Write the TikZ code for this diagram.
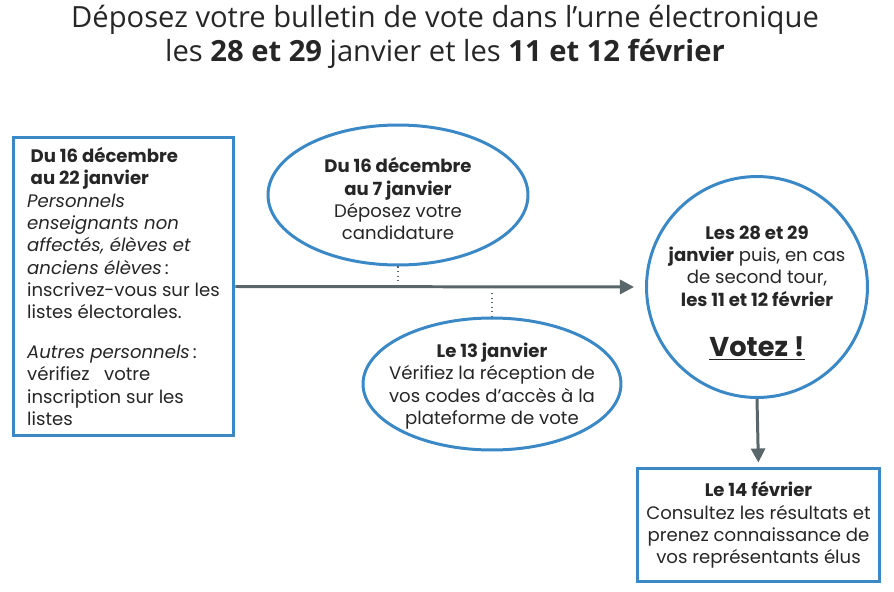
\documentclass[tikz,border=0pt]{standalone}
\usepackage{fontspec}
\setmainfont{Poppins}
\newfontfamily\titlefont{Open Sans}
\usetikzlibrary{shapes.geometric,arrows.meta}
\definecolor{voteblue}{HTML}{3B88C6}
\definecolor{votegray}{HTML}{59666A}
\definecolor{votetext}{HTML}{262626}

\tikzset{
	bluebox/.style={draw=voteblue,line width=1.7pt,inner sep=0pt},
	bubble/.style={draw=voteblue,line width=1.7pt,ellipse,inner sep=0pt},
	bodytext/.style={text=votetext,align=center,font=\fontsize{10.3}{12.7}\selectfont},
	flow/.style={draw=votegray,line width=1.7pt,-{Triangle[length=8pt,width=8pt]}},
	tick/.style={draw=votegray,dotted,line width=0.6pt}
}

\begin{document}
\begin{tikzpicture}[x=0.02cm,y=-0.02cm]
	\useasboundingbox (0,0) rectangle (894,592);
	
	% titre
	\node[text=votetext,align=center,font=\titlefont\fontsize{16.6}{19.6}\selectfont] (titre) at (445,37)
		{Déposez votre bulletin de vote dans l’urne électronique\\
		 les \textbf{28 et 29} janvier et les \textbf{11 et 12 février}};
	
	% inscription
	\node[bluebox,bodytext,align=left,minimum width=4.42cm,minimum height=5.98cm] (inscr) at (123.5,286.5)
		{\hspace{2pt}\textbf{Du 16 décembre}\\
		 \hspace{2pt}\textbf{au 22 janvier}\\
		 \textit{Personnels}\\
		 \textit{enseignants non}\\
		 \textit{affectés, élèves et}\\
		 \textit{anciens élèves}\,:\\
		 inscrivez-vous sur les\\
		 listes électorales.\\[10pt]
		 \textit{Autres personnels}\,:\\
		 vérifiez\ \ \ votre\\
		 inscription sur les\\
		 listes};
	
	% candidature
	\node[bubble,minimum width=5.2cm,minimum height=2.8cm] (candid) at (398,195) {};
	\node[bodytext] (candidtxt) at (398,199)
		{\textbf{Du 16 décembre}\\
		 \textbf{au 7 janvier}\\
		 Déposez votre\\
		 candidature};
	
	% codes
	\node[bubble,minimum width=5.16cm,minimum height=2.64cm] (codes) at (492,384) {};
	\node[bodytext] (codestxt) at (492,386)
		{\textbf{Le 13 janvier}\\
		 Vérifiez la réception de\\
		 vos codes d’accès à la\\
		 plateforme de vote};
	
	% vote
	\node[bluebox,circle,minimum size=4.42cm] (vote) at (757,287) {};
	\node[bodytext] (votetxt) at (757,293)
		{\textbf{Les 28 et 29}\\
		 \textbf{janvier} puis, en cas\\
		 de second tour,\\
		 \textbf{les 11 et 12 février}\\[16pt]
		 {\fontsize{15.5}{17}\selectfont\underline{\textbf{Votez !}}}};
	
	% resultats
	\node[bluebox,bodytext,minimum width=4.86cm,minimum height=2.28cm] (result) at (758.5,525)
		{\textbf{Le 14 février}\\
		 Consultez les résultats et\\
		 prenez connaissance de\\
		 vos représentants élus};
	
	\coordinate (dotA) at (398,283);
	\coordinate (dotB) at (492,293);
	
	\draw[flow,shorten >=11*0.02cm] (inscr.east) -- (vote.west);
	\draw[flow,shorten >=4*0.02cm] (vote.south) -- (result.north);
	\draw[tick] (candid.south) -- (dotA);
	\draw[tick] (dotB) -- (codes.north);
\end{tikzpicture}
\end{document}
